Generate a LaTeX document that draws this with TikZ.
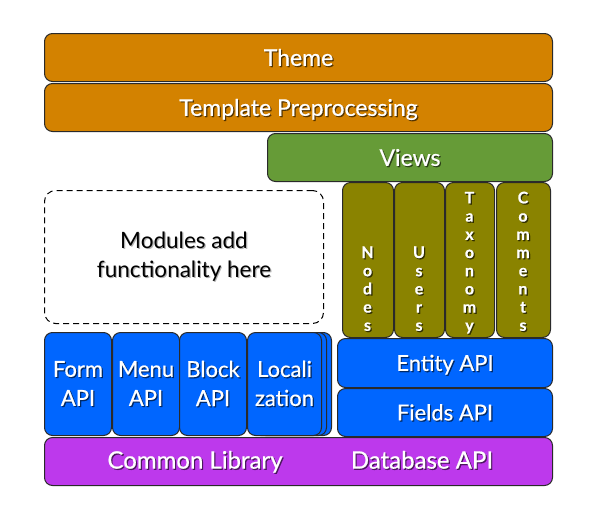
\documentclass[tikz,border=0pt]{standalone}
\usepackage{fontspec}
\setmainfont{Lato}
\newfontfamily\heavy{Lato}[FakeBold=0.6]
\newfontfamily\heavyb{Lato}[FakeBold=0.7]
\definecolor{orangeC}{HTML}{D38200}
\definecolor{greenC}{HTML}{669B37}
\definecolor{oliveC}{HTML}{8A8300}
\definecolor{blueC}{HTML}{0066FF}
\definecolor{purpleC}{HTML}{BD39EC}
\definecolor{edgeC}{HTML}{2A2A2A}
\colorlet{shc}{black}
\newcommand\sh[1]{\leavevmode\rlap{\kern1.2pt\raisebox{-1.2pt}{\color{shc}#1}}#1}
\tikzset{
  box/.style={draw=edgeC, line width=1pt, rounded corners=8pt, inner sep=0pt,
    anchor=north west, text=white, align=center},
  big/.style={font=\heavy\fontsize{23}{28}\selectfont, text height=16.6pt, text depth=0pt},
  orangebox/.style={box, big, fill=orangeC, execute at begin node={\colorlet{shc}{orangeC!40!black}}},
  greenbox/.style={box, big, fill=greenC, execute at begin node={\colorlet{shc}{greenC!40!black}}},
  olivebox/.style={box, fill=oliveC},
  bluebox/.style={box, fill=blueC, execute at begin node={\colorlet{shc}{blueC!40!black}},
    font=\heavy\fontsize{22}{29}\selectfont},
  bluewide/.style={box, fill=blueC, execute at begin node={\colorlet{shc}{blueC!40!black}},
    font=\heavy\fontsize{22}{28}\selectfont, text height=15.8pt, text depth=0pt},
  purplebox/.style={box, fill=purpleC},
  purpletxt/.style={text=white, inner sep=0pt, font=\heavy\fontsize{24}{28}\selectfont,
    text height=17.2pt, text depth=0pt,
    execute at begin node={\colorlet{shc}{purpleC!40!black}}},
  vtxt/.style={text=white, inner sep=0pt, anchor=south, text depth=0pt, align=center,
    font=\heavyb\bfseries\fontsize{16}{18.2}\selectfont,
    execute at begin node={\colorlet{shc}{oliveC!35!black}}},
  dashbox/.style={draw=black, line width=1pt, rounded corners=11pt, dash pattern=on 6pt off 4pt,
    anchor=north west, inner sep=0pt, align=center, font=\fontsize{22.5}{29}\selectfont,
    execute at begin node={\colorlet{shc}{black!30}}},
}
\begin{document}
\begin{tikzpicture}[x=1pt,y=-1pt]
\useasboundingbox (0,0) rectangle (591,517);
% top layers
\node[orangebox, minimum width=508pt, minimum height=48pt] (theme) at (44,33) {\sh{Theme}};
\node[orangebox, minimum width=508pt, minimum height=48pt] (tpl) at (44,83) {\sh{Template Preprocessing}};
\node[greenbox, minimum width=285pt, minimum height=48pt] (views) at (267,133) {\sh{Views}};
% modules
\node[dashbox, minimum width=279pt, minimum height=133pt] (mods) at (44,190) {\sh{Modules add}\\\sh{functionality here}};
% entity columns
\node[olivebox, minimum width=51pt, minimum height=155pt] (nodes) at (342,182) {};
\node[olivebox, minimum width=50pt, minimum height=155pt] (users) at (394,182) {};
\node[olivebox, minimum width=49pt, minimum height=155pt] (taxo) at (445,182) {};
\node[olivebox, minimum width=54pt, minimum height=155pt] (comm) at (496,182) {};
\node[vtxt] (nodesT) at (367.5,331) {\sh{N}\\\sh{o}\\\sh{d}\\\sh{e}\\\sh{s}};
\node[vtxt] (usersT) at (419,331) {\sh{U}\\\sh{s}\\\sh{e}\\\sh{r}\\\sh{s}};
\node[vtxt] (taxoT) at (469.5,331) {\sh{T}\\\sh{a}\\\sh{x}\\\sh{o}\\\sh{n}\\\sh{o}\\\sh{m}\\\sh{y}};
\node[vtxt] (commT) at (523,331) {\sh{C}\\\sh{o}\\\sh{m}\\\sh{m}\\\sh{e}\\\sh{n}\\\sh{t}\\\sh{s}};
% APIs
\node[bluebox, minimum width=67pt, minimum height=103pt] (form) at (44,332) {\sh{Form}\\\sh{API}};
\node[bluebox, minimum width=67pt, minimum height=103pt] (menu) at (112,332) {\sh{Menu}\\\sh{API}};
\node[bluebox, minimum width=67pt, minimum height=103pt] (block) at (179,332) {\sh{Block}\\\sh{API}};
\node[bluebox, minimum width=74pt, minimum height=103pt] (locb2) at (257,332) {};
\node[bluebox, minimum width=74pt, minimum height=103pt] (locb1) at (252,332) {};
\node[bluebox, minimum width=74pt, minimum height=103pt] (loc) at (247,332) {\sh{Locali}\\\sh{zation}};
\node[bluewide, minimum width=215pt, minimum height=49pt] (entity) at (337,338) {\sh{Entity API}};
\node[bluewide, minimum width=215pt, minimum height=48pt] (fields) at (337,388) {\sh{Fields API}};
% base
\node[purplebox, minimum width=508pt, minimum height=48pt] (common) at (44,437) {};
\node[purpletxt] (commonL) at (195,460) {\sh{Common Library}};
\node[purpletxt] (dbapi) at (422,460) {\sh{Database API}};
\end{tikzpicture}
\end{document}
